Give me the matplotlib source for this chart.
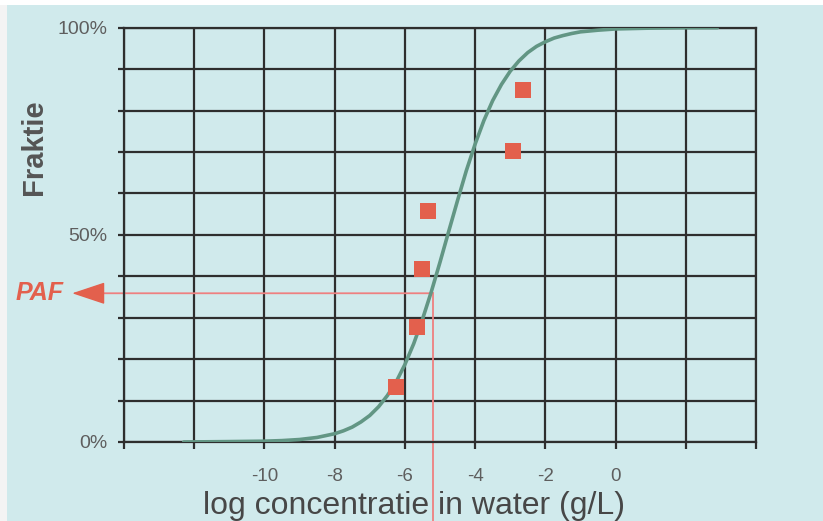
import matplotlib
matplotlib.use('Agg')
import matplotlib.pyplot as plt
from matplotlib.patches import Rectangle
from matplotlib.ticker import FixedLocator, FuncFormatter

plt.rcParams['font.family'] = ['Liberation Sans', 'DejaVu Sans']

# fitted species sensitivity curve
curve_x = [-12.3, -11, -10, -9.5, -9, -8.5, -8, -7.75, -7.5, -7.25, -7, -6.75, -6.5, -6.25,
           -6, -5.75, -5.5, -5.25, -5, -4.75, -4.5, -4.25, -4, -3.75, -3.5, -3.25, -3,
           -2.75, -2.5, -2.25, -2, -1.75, -1.5, -1.25, -1, -0.75, -0.5, 0, 0.5, 1, 1.5,
           2, 2.9]
curve_y = [0, 0.1, 0.2, 0.34, 0.6, 1.1, 2.0, 2.7, 3.6, 4.85, 6.4, 8.5, 11.2, 14.5,
           18.7, 23.7, 29.6, 36.2, 43.4, 50.9, 58.3, 65.5, 71.9, 77.6, 82.4, 86.3, 89.5,
           92.0, 94.0, 95.5, 96.6, 97.5, 98.1, 98.6, 99.0, 99.2, 99.4, 99.7, 99.8, 99.9, 99.95,
           100, 100]

# measured toxicity data (log conc, fraction %)
species_x = [-6.25, -5.65, -5.51, -5.34, -2.92, -2.63]
species_y = [13.3, 27.7, 41.7, 55.7, 70.2, 84.9]

# PAF reading
paf_x = -5.21
paf_y = 35.9

x_ticks = list(range(-14, 5, 2))
x_labelled = [-10, -8, -6, -4, -2, 0]
y_ticks = list(range(0, 101, 10))
y_labelled = [0, 50, 100]

bg = '#d0eaec'
grid_col = '#2e2e2e'
red = '#e3604d'

fig = plt.figure(figsize=(8.23, 5.21), dpi=100, facecolor=bg)
fig.patches.append(Rectangle((0, 0), 7 / 823, 1, transform=fig.transFigure,
                             facecolor='#f4f4f4', edgecolor='none', zorder=0))
fig.patches.append(Rectangle((0, 1 - 5 / 521), 1, 5 / 521, transform=fig.transFigure,
                             facecolor='white', edgecolor='none', zorder=0))

ax = fig.add_axes([124 / 823, 79 / 521, 632 / 823, 414.3 / 521])
ax.set_facecolor(bg)
ax.set_xlim(-14, 4)
ax.set_ylim(0, 100)

ax.xaxis.set_major_locator(FixedLocator(x_ticks))
ax.yaxis.set_major_locator(FixedLocator(y_ticks))
ax.xaxis.set_major_formatter(FuncFormatter(lambda v, p: f'{int(v)}' if int(v) in x_labelled else ''))
ax.yaxis.set_major_formatter(FuncFormatter(lambda v, p: f'{int(v)}%' if int(v) in y_labelled else ''))

ax.grid(True, color=grid_col, linewidth=1.6, zorder=1)
ax.set_axisbelow(True)
for s in ax.spines.values():
    s.set_color(grid_col)
    s.set_linewidth(1.6)
ax.tick_params(axis='x', length=5, width=1.6, color=grid_col, pad=14,
               labelsize=13.5, labelcolor='#5e5e5e')
ax.tick_params(axis='y', length=4, width=1.6, color=grid_col, pad=8,
               labelsize=14, labelcolor='#5e5e5e')

ax.plot(curve_x, curve_y, color='#629684', linewidth=2.6, zorder=3,
        solid_capstyle='round', solid_joinstyle='round')

# PAF construction lines
trans = ax.get_xaxis_transform()
ax.plot([paf_x, paf_x], [-0.3, paf_y / 100], color='#ee8080', linewidth=1.3,
        transform=trans, clip_on=False, zorder=2)
ax.annotate('', xy=(-0.035, paf_y), xytext=(paf_x, paf_y),
            xycoords=ax.get_yaxis_transform(), textcoords='data',
            arrowprops=dict(arrowstyle='-', color='#ee8080', lw=1.3,
                            shrinkA=0, shrinkB=0), zorder=2)
ax.annotate('', xy=(-0.082, paf_y), xytext=(-0.034, paf_y),
            xycoords=ax.get_yaxis_transform(), textcoords=ax.get_yaxis_transform(),
            arrowprops=dict(arrowstyle='-|>,head_length=2.1,head_width=0.7',
                            color=red, lw=1, shrinkA=0, shrinkB=0,
                            mutation_scale=10), zorder=2)
ax.text(-0.096, paf_y, 'PAF', transform=ax.get_yaxis_transform(), ha='right', va='center',
        fontsize=18, fontweight='bold', fontstyle='italic', color=red)

ax.plot(species_x, species_y, linestyle='none', marker='s', markersize=11.5,
        color=red, markeredgewidth=0, zorder=4)

ax.set_xlabel('log concentratie in water (g/L)', fontsize=23, color='#474747')
ax.xaxis.set_label_coords(0.459, -0.118)
ax.set_ylabel('Fraktie', fontsize=21, fontweight='bold', color='#555555')
ax.yaxis.set_label_coords(-0.12, 0.712)

fig.savefig('out.png', dpi=100, facecolor=fig.get_facecolor())
